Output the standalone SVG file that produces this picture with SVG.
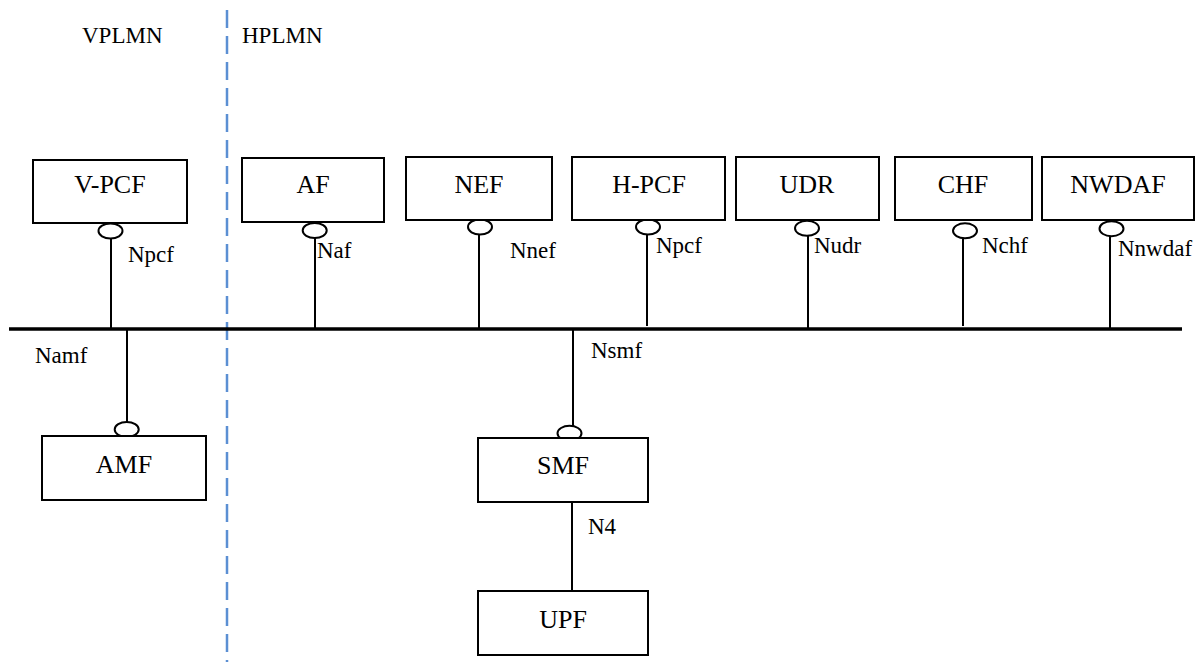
<svg xmlns="http://www.w3.org/2000/svg" width="1197" height="664" viewBox="0 0 1197 664">
<style>
.box{fill:#fff;stroke:#000;stroke-width:2}
.lbl{font-size:26px;fill:#000;text-anchor:middle}
.sm{font-size:23px;fill:#000}
.ln{stroke:#000;stroke-width:2;fill:none}
.lp{fill:#fff;stroke:#000;stroke-width:2}
.bus{stroke:#000;stroke-width:3.5}
.div{stroke:#5b8fd3;stroke-width:2.5;stroke-dasharray:18 8;fill:none}
</style>
<rect width="1197" height="664" fill="#fff"/>
<g font-family="Liberation Serif, Times New Roman, serif">
<g id="regions">
<line class="div" x1="227" y1="10" x2="227" y2="662"/>
<text class="sm" x="82" y="43" font-size="24">VPLMN</text>
<text class="sm" x="242" y="43" font-size="24">HPLMN</text>
</g>
<g id="connectors">
<line class="bus" x1="9" y1="329" x2="1182" y2="329"/>
<line class="ln" x1="111" y1="238" x2="111" y2="329"/>
<line class="ln" x1="315" y1="238" x2="315" y2="329"/>
<line class="ln" x1="479" y1="235" x2="479" y2="329"/>
<line class="ln" x1="647" y1="235" x2="647" y2="326"/>
<line class="ln" x1="808" y1="236" x2="808" y2="329"/>
<line class="ln" x1="963" y1="239" x2="963" y2="326"/>
<line class="ln" x1="1110" y1="236" x2="1110" y2="329"/>
<line class="ln" x1="127" y1="329" x2="127" y2="422"/>
<line class="ln" x1="573" y1="329" x2="573" y2="426"/>
<line class="ln" x1="572" y1="502" x2="572" y2="591"/>
<ellipse class="lp" cx="110.5" cy="231" rx="12" ry="7.5"/>
<ellipse class="lp" cx="314.7" cy="230.5" rx="12" ry="7.5"/>
<ellipse class="lp" cx="480" cy="227" rx="12" ry="7.5"/>
<ellipse class="lp" cx="648" cy="227" rx="12" ry="7.5"/>
<ellipse class="lp" cx="807" cy="228.3" rx="12" ry="7.5"/>
<ellipse class="lp" cx="965" cy="230.8" rx="12" ry="7.5"/>
<ellipse class="lp" cx="1111.5" cy="228.7" rx="12" ry="7.5"/>
<ellipse class="lp" cx="126.7" cy="429.5" rx="12" ry="7.5"/>
<ellipse class="lp" cx="569.5" cy="433.3" rx="12" ry="7.5"/>
<text class="sm" x="128" y="262">Npcf</text>
<text class="sm" x="317" y="258">Naf</text>
<text class="sm" x="510" y="258">Nnef</text>
<text class="sm" x="656" y="253">Npcf</text>
<text class="sm" x="814" y="253">Nudr</text>
<text class="sm" x="982" y="253">Nchf</text>
<text class="sm" x="1118" y="256">Nnwdaf</text>
<text class="sm" x="35" y="363">Namf</text>
<text class="sm" x="591" y="358">Nsmf</text>
<text class="sm" x="588" y="534">N4</text>
</g>
<g id="vpcf"><rect class="box" x="33" y="160" width="154" height="63"/><text class="lbl" x="110" y="193">V-PCF</text></g>
<g id="af"><rect class="box" x="242" y="158" width="142" height="64"/><text class="lbl" x="313" y="193">AF</text></g>
<g id="nef"><rect class="box" x="406" y="157" width="146" height="63"/><text class="lbl" x="479" y="193">NEF</text></g>
<g id="hpcf"><rect class="box" x="572" y="157" width="153" height="63"/><text class="lbl" x="649" y="193">H-PCF</text></g>
<g id="udr"><rect class="box" x="736" y="157" width="143" height="63"/><text class="lbl" x="807" y="193">UDR</text></g>
<g id="chf"><rect class="box" x="895" y="157" width="137" height="63"/><text class="lbl" x="963" y="193">CHF</text></g>
<g id="nwdaf"><rect class="box" x="1042" y="157" width="152" height="63"/><text class="lbl" x="1118" y="193">NWDAF</text></g>
<g id="amf"><rect class="box" x="42" y="436" width="164" height="64"/><text class="lbl" x="124" y="473">AMF</text></g>
<g id="smf"><rect class="box" x="478" y="438" width="170" height="64"/><text class="lbl" x="563" y="474">SMF</text></g>
<g id="upf"><rect class="box" x="478" y="591" width="170" height="64"/><text class="lbl" x="563" y="628">UPF</text></g>
</g>
</svg>
